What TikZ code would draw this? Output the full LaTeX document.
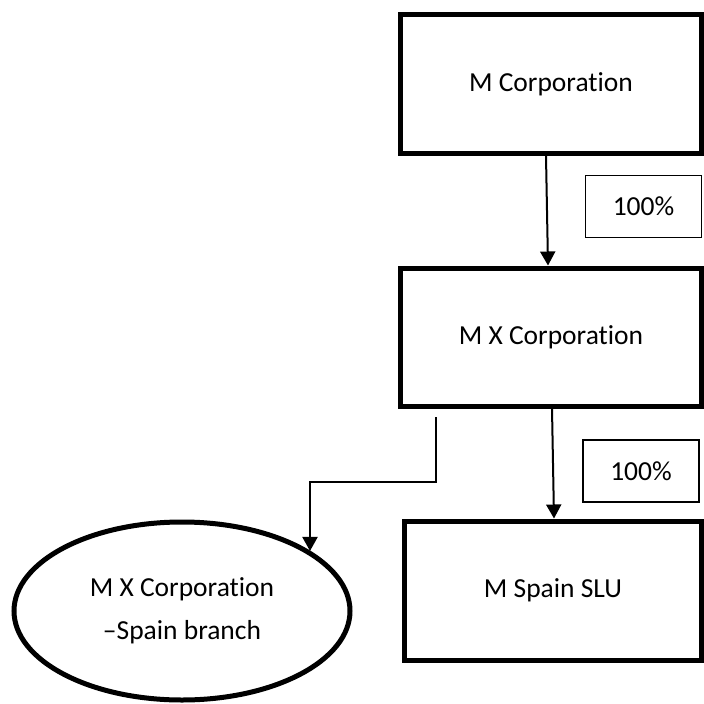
\documentclass[tikz,border=0pt]{standalone}
\usepackage{fontspec}
\setmainfont{Carlito}[Ligatures=NoCommon]
\usetikzlibrary{shapes.geometric}
\usetikzlibrary{arrows.meta}
\usetikzlibrary{calc}
\tikzset{ent/.style={draw, line width=5pt, align=center, inner sep=0pt}}
\tikzset{link/.style={-{Triangle[width=15pt,length=14pt]}, line width=2pt}}

\begin{document}
\begin{tikzpicture}[x=1pt, y=-1pt]
\tikzset{
  base/.style={font=\fontsize{27.5}{43}\selectfont},
  co/.style={base, ent, rectangle},
  br/.style={base, ent, ellipse},
  pct/.style={base, draw, line width=1.2pt, minimum width=116pt, minimum height=62pt},
}
\useasboundingbox (0,0) rectangle (704,704);

\node[co, minimum width=301pt, minimum height=139pt] (mcorp) at (551, 84) {M Corporation};
\node[co, minimum width=301pt, minimum height=138pt] (mx) at (551, 337) {M X Corporation};
\node[co, minimum width=297pt, minimum height=139pt] (spain) at (553, 590.5) {M Spain SLU};
\node[br, minimum width=336pt, minimum height=178pt] (branch) at (182, 611) {M X Corporation\\–Spain branch};

\node[pct] (p1) at (643.5, 206.5) {100\%};
\node[pct] (p2) at (641, 471) {100\%};

\coordinate (bstart) at (436, 417);
\coordinate (bend) at (310, 482);

\draw[link] ([xshift=-5pt]mcorp.south) -- ([xshift=-3pt]mx.north);
\draw[link] ([xshift=1pt]mx.south) -- ([xshift=1pt]spain.north);
\draw[link] (bstart) |- (bend) -- (bend |- branch.25);
\end{tikzpicture}
\end{document}
